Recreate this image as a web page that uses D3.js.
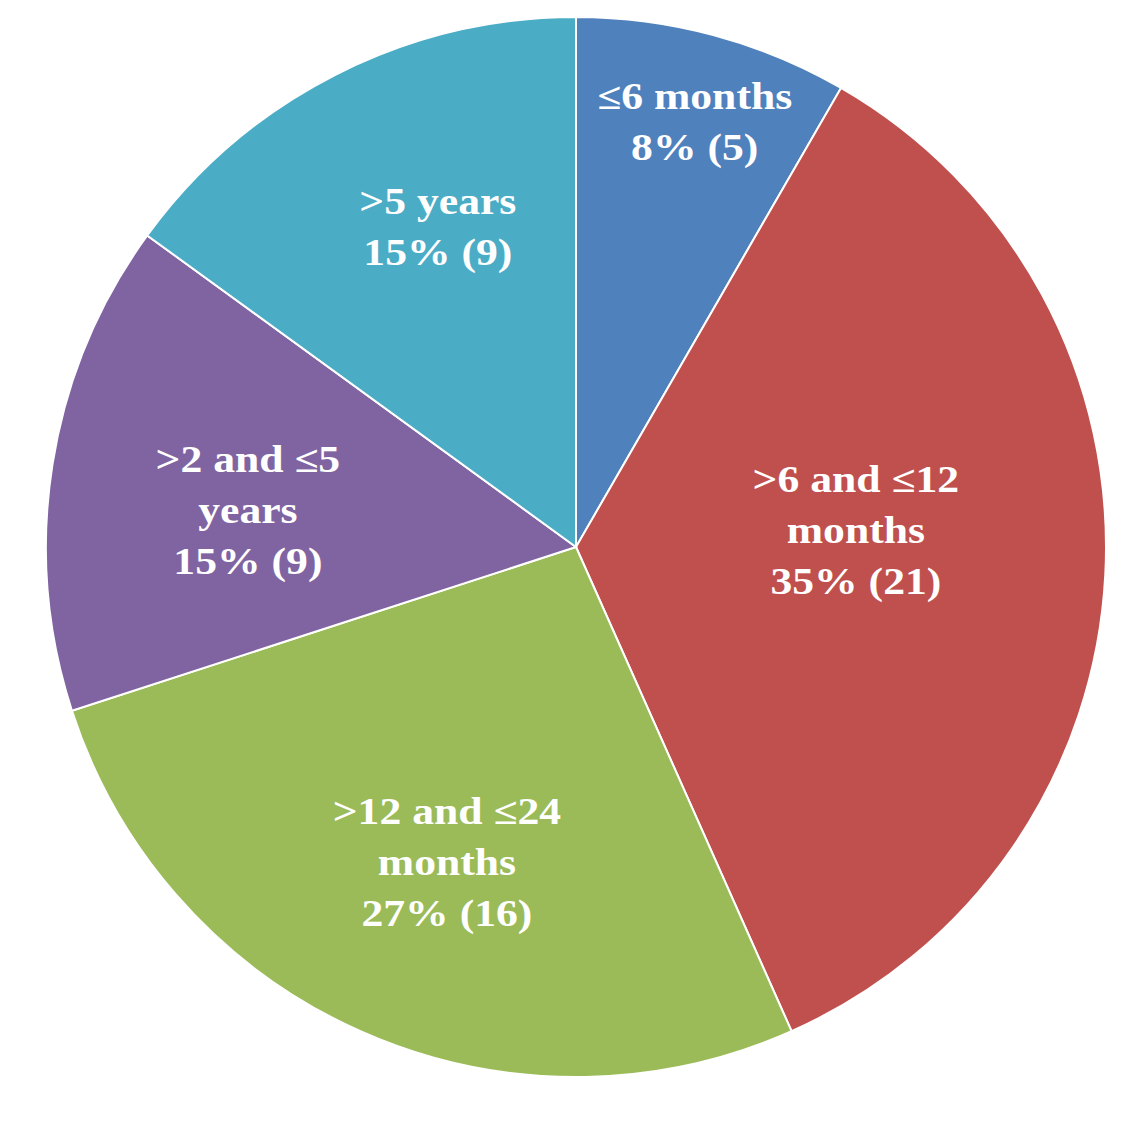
<!DOCTYPE html>
<html>
<head>
<meta charset="utf-8">
<script src="https://cdn.jsdelivr.net/npm/d3@7"></script>
<style>
html,body{margin:0;padding:0;background:#fff;}
</style>
</head>
<body>
<svg id="chart" width="1134" height="1132"></svg>
<script>
const categories = ["≤6 months", ">6 and ≤12 months", ">12 and ≤24 months", ">2 and ≤5 years", ">5 years"];
const labelLines = [["≤6 months"], [">6 and ≤12", "months"], [">12 and ≤24", "months"], [">2 and ≤5", "years"], [">5 years"]];
const counts = [5, 21, 16, 9, 9];
const percents = ["8%", "35%", "27%", "15%", "15%"];
const colors = ["#4F81BD", "#C0504D", "#9BBB59", "#8064A2", "#4BACC6"];
// label placement (layout only): radius fraction and angular shift in degrees
const labelRadiusFrac = [0.833, 0.529, 0.642, 0.623, 0.659];
const labelAngleShift = [0.6, -6.5, -1.7, -2.6, 3.7];

const cx = 576, cy = 547, R = 530;
const svg = d3.select("#chart");
const g = svg.append("g").attr("transform", `translate(${cx},${cy})`);

const pie = d3.pie().sort(null).value(d => d)(counts);
const arc = d3.arc().innerRadius(0).outerRadius(R);

g.selectAll("path.slice").data(pie).join("path")
  .attr("class", "slice")
  .attr("d", arc)
  .attr("fill", (d, i) => colors[i])
  .attr("stroke", "#fff")
  .attr("stroke-width", 2);

const fs = 37, lh = 51, sx = 1.18;
pie.forEach((d, i) => {
  const a = (d.startAngle + d.endAngle) / 2 + labelAngleShift[i] * Math.PI / 180;
  const r = R * labelRadiusFrac[i];
  const x = Math.sin(a) * r, y = -Math.cos(a) * r;
  const lines = labelLines[i].concat([`${percents[i]} (${counts[i]})`]);
  const t = g.append("g").attr("transform", `translate(${x},${y}) scale(${sx},1)`)
    .append("text")
    .attr("text-anchor", "middle")
    .attr("font-family", "'Liberation Serif','Times New Roman',serif")
    .attr("font-weight", "bold")
    .attr("font-size", fs)
    .attr("fill", "#fff");
  const y0 = -(lines.length - 1) * lh / 2;
  lines.forEach((ln, k) => {
    t.append("tspan").attr("x", 0).attr("y", y0 + k * lh).attr("dy", "0.35em").text(ln);
  });
});
</script>
</body>
</html>
